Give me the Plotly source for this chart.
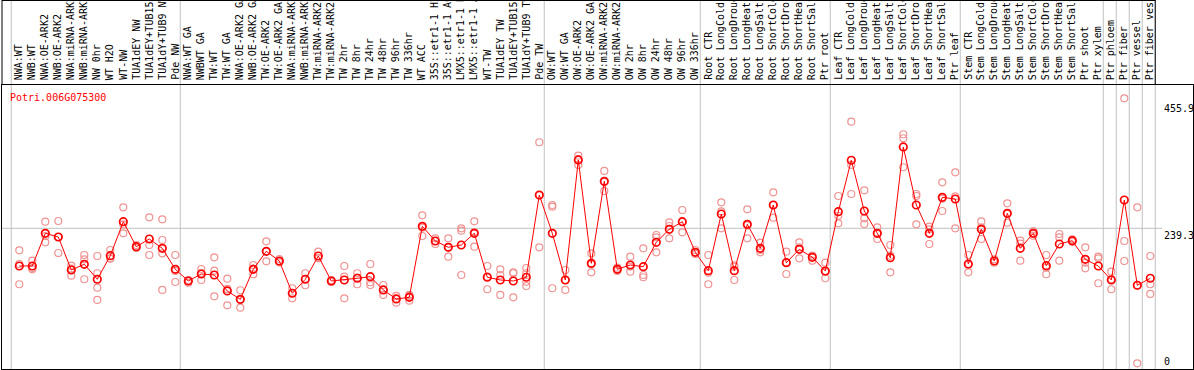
import plotly.graph_objects as go

gene = "Potri.006G075300"

labels = [
    "NWA:WT", "NWB:WT", "NWA:OE-ARK2", "NWB:OE-ARK2", "NWA:miRNA-ARK2", "NWB:miRNA-ARK2",
    "NW 0hr", "WT H2O", "WT-NW", "TUA1dEY NW", "TUA1dEY+TUB15 NW", "TUA1dY+TUB9 NW", "Pde NW",
    "NWA:WT GA", "NWBWT GA", "TW:WT", "TW:WT GA", "NWA:OE-ARK2 GA", "NWB:OE-ARK2 GA",
    "TW:OE-ARK2", "TW:OE-ARK2 GA", "NWA:miRNA-ARK2 GA", "NWB:miRNA-ARK2 GA", "TW:miRNA-ARK2",
    "TW:miRNA-ARK2", "TW 2hr", "TW 8hr", "TW 24hr", "TW 48hr", "TW 96hr", "TW 336hr", "WT ACC",
    "35S::etr1-1 H2O", "35S::etr1-1 ACC", "LMX5::etr1-1 H2O", "LMX5::etr1-1 ACC", "WT-TW",
    "TUA1dEY TW", "TUA1dEY+TUB15 TW", "TUA1dY+TUB9 TW", "Pde TW",
    "OW:WT", "OW:WT GA", "OW:OE-ARK2", "OW:OE-ARK2 GA", "OW:miRNA-ARK2", "OW:miRNA-ARK2",
    "OW 2hr", "OW 8hr", "OW 24hr", "OW 48hr", "OW 96hr", "OW 336hr",
    "Root CTR", "Root LongCold", "Root LongDrought", "Root LongHeat", "Root LongSalt",
    "Root ShortCold", "Root ShortDrought", "Root ShortHeat", "Root ShortSalt", "Ptr root",
    "Leaf CTR", "Leaf LongCold", "Leaf LongDrought", "Leaf LongHeat", "Leaf LongSalt",
    "Leaf ShortCold", "Leaf ShortDrought", "Leaf ShortHeat", "Leaf ShortSalt", "Ptr leaf",
    "Stem CTR", "Stem LongCold", "Stem LongDrought", "Stem LongHeat", "Stem LongSalt",
    "Stem ShortCold", "Stem ShortDrought", "Stem ShortHeat", "Stem ShortSalt", "Ptr shoot",
    "Ptr xylem", "Ptr phloem", "Ptr fiber", "Ptr vessel", "Ptr fiber vessel",
]

means = [
    175.2, 175.2, 230.8, 224.5, 168.4, 178.1, 152.6, 192.7, 250.5, 208.0, 221.1, 205.3, 169.6,
    149.7, 161.6, 159.9, 132.7, 118.5, 169.6, 200.2, 183.7, 128.8, 152.6, 192.2, 149.7, 151.4,
    154.3, 157.0, 134.4, 119.1, 121.9, 242.7, 217.7, 207.0, 210.9, 230.8, 156.0, 151.4, 149.7,
    156.0, 295.9,
    230.8, 151.4, 355.5, 179.8, 319.2, 169.6, 176.9, 174.0, 215.5, 237.6, 250.5, 198.5,
    167.2, 263.6, 167.2, 246.1, 205.3, 278.9, 180.8, 203.6, 190.0, 166.7,
    267.5, 355.0, 268.7, 230.8, 189.3, 377.6, 278.9, 230.8, 292.0, 289.1,
    178.6, 237.6, 183.7, 264.8, 205.3, 230.8, 175.7, 212.6, 218.2, 186.6, 175.2,
    151.4, 287.4, 142.4, 154.3,
]

replicates = [
    [201.9, 178.6, 144.1], [184.2, 171.8, 169.6], [250.5, 226.2, 215.5], [251.7, 224.5, 197.3],
    [175.7, 170.8, 158.7], [193.9, 186.6, 152.6], [192.2, 162.8, 138.3, 117.4], [202.4, 188.3, 187.6],
    [275.0, 245.8, 230.8], [210.9, 207.5, 205.8], [258.0, 210.9, 193.9], [254.6, 219.4, 196.8, 134.4],
    [193.9, 166.7, 148.0],
    [151.4, 149.7, 146.8], [170.1, 163.3, 151.4], [190.0, 167.2, 123.6], [153.6, 136.1, 108.3],
    [133.9, 117.4, 104.3], [176.9, 170.6, 161.1], [217.2, 200.0, 183.2], [187.1, 182.5, 181.5],
    [137.3, 128.8, 120.2], [162.8, 152.6, 142.4], [199.5, 188.8, 188.3], [151.4, 149.7, 148.0],
    [175.2, 157.0, 120.2], [162.8, 155.3, 144.1], [178.6, 147.5, 142.9], [142.9, 134.4, 125.9],
    [124.2, 119.1, 112.8], [125.9, 124.2, 116.2], [261.4, 240.3, 226.2], [222.3, 217.7, 212.6],
    [222.3, 207.5, 191.0], [239.3, 235.2, 159.9], [251.2, 233.0, 208.0], [175.2, 157.0, 135.6],
    [169.6, 159.9, 125.9], [164.3, 162.8, 121.9], [171.8, 162.8, 148.5, 141.2], [385.6, 295.3, 207.0],
    [278.9, 276.0, 137.3], [168.4, 151.4, 134.4], [362.8, 356.7, 347.0], [196.8, 177.9, 164.5],
    [336.8, 318.0, 302.7], [172.3, 169.6, 166.7], [191.0, 174.2, 165.5], [205.3, 159.9, 156.0],
    [227.9, 224.0, 198.5], [249.5, 243.2, 222.3], [270.4, 250.0, 232.5], [202.4, 198.5, 195.6],
    [193.9, 163.6, 144.1], [283.5, 268.0, 239.3], [176.4, 174.0, 151.4], [271.6, 244.2, 222.3],
    [214.8, 202.4, 198.5], [300.5, 278.9, 257.3], [199.5, 181.5, 161.6], [215.5, 206.8, 188.3],
    [193.0, 192.2, 184.2], [180.8, 165.0, 154.3],
    [294.2, 260.6, 247.8], [420.6, 347.0, 297.6], [303.9, 256.3, 246.6], [241.0, 230.1, 221.1],
    [210.9, 192.7, 164.5], [399.2, 392.4, 343.1], [297.6, 294.2, 246.1], [242.0, 237.6, 212.6],
    [317.5, 289.6, 268.7], [334.5, 293.6, 239.3],
    [193.9, 177.4, 164.5], [250.9, 240.7, 221.1], [186.6, 183.7, 180.8], [281.8, 263.6, 248.8],
    [218.2, 213.3, 184.2], [234.7, 230.8, 226.7], [193.9, 172.3, 161.1], [229.6, 224.0, 184.2],
    [220.6, 218.2, 216.0], [207.0, 180.8, 171.3], [191.0, 188.3, 145.8],
    [165.5, 153.1, 135.6], [460.4, 217.7, 183.7], [275.0, 142.2, 9.7], [192.2, 144.1, 127.6],
]

group_starts = [0, 13, 41, 53, 63, 73, 84, 85, 86, 87, 88]
ref_values = [455.9, 239.3, 0]

MONO = "DejaVu Sans Mono"
idx = list(range(len(means)))
rep_x = [i for i, reps in enumerate(replicates) for _ in reps]
rep_y = [v for reps in replicates for v in reps]

fig = go.Figure()
fig.add_trace(go.Scatter(
    x=rep_x, y=rep_y, mode="markers",
    marker=dict(symbol="circle-open", size=7, color="#ef9393", line=dict(width=1.2, color="#ef9393")),
    hoverinfo="skip", showlegend=False,
))
fig.add_trace(go.Scatter(
    x=idx, y=means, mode="lines+markers",
    line=dict(color="#ff0000", width=1),
    marker=dict(symbol="circle-open", size=7.5, color="#ff0000", line=dict(width=1.7, color="#ff0000")),
    showlegend=False,
))

W, H = 1194, 370
L, R, T, B = 2, 1, 85, 1
plot_w = W - L - R
plot_h = H - T - B
x0_px, dx_px = 19.3, 13.0
xr = [(L - x0_px) / dx_px, (W - R - x0_px) / dx_px]
yr = [0, 483.0]
top_paper = (H - B) / plot_h  # paper y of the very top of the figure

shapes = []
sep_off = 0.62
for s in group_starts:
    shapes.append(dict(type="line", xref="x", yref="paper", x0=s - sep_off, x1=s - sep_off,
                       y0=0, y1=top_paper, line=dict(color="#c0c0c0", width=1), layer="below"))
# horizontal reference line
shapes.append(dict(type="line", xref="paper", yref="y", x0=0, x1=(1162 - L) / plot_w,
                   y0=ref_values[1], y1=ref_values[1], line=dict(color="#c0c0c0", width=1), layer="below"))
# header box
hx1 = group_starts[-1] - sep_off
shapes.append(dict(type="line", xref="x", yref="paper", x0=hx1, x1=hx1, y0=1, y1=top_paper,
                   line=dict(color="black", width=1)))
shapes.append(dict(type="line", xref="x", yref="paper", x0=xr[0], x1=hx1,
                   y0=top_paper - 0.5 / plot_h, y1=top_paper - 0.5 / plot_h, line=dict(color="black", width=1)))
shapes.append(dict(type="line", xref="paper", yref="paper", x0=0, x1=0, y0=1, y1=top_paper,
                   line=dict(color="black", width=1)))

annotations = []
label_y = (H - B - 82) / plot_h
for i, lab in enumerate(labels):
    annotations.append(dict(x=i, y=label_y, xref="x", yref="paper", text=lab, textangle=-90,
                            showarrow=False, xanchor="center", yanchor="bottom",
                            font=dict(family=MONO, size=10, color="black")))
annotations.append(dict(x=(8 - L) / plot_w, y=(H - B - 97) / plot_h, xref="paper", yref="paper",
                        text=gene, showarrow=False, xanchor="left", yanchor="middle",
                        font=dict(family=MONO, size=10, color="#ff0000")))
rx = (1162 - L) / plot_w
for v in ref_values:
    annotations.append(dict(x=rx, y=v, xref="paper", yref="y", text=("%g" % v if v == 0 else "%.1f" % v),
                            showarrow=False, xanchor="left", yanchor=("bottom" if v == 0 else "top"),
                            font=dict(family=MONO, size=10, color="black")))

fig.update_layout(
    width=W, height=H,
    margin=dict(l=L, r=R, t=T, b=B, pad=0),
    paper_bgcolor="white", plot_bgcolor="white",
    xaxis=dict(range=xr, showgrid=False, zeroline=False, showticklabels=False, ticks="",
               showline=True, mirror=True, linecolor="black", linewidth=1, fixedrange=True),
    yaxis=dict(range=yr, showgrid=False, zeroline=False, showticklabels=False, ticks="",
               showline=True, mirror=True, linecolor="black", linewidth=1, fixedrange=True),
    shapes=shapes, annotations=annotations,
    showlegend=False,
)

fig.write_html(
    "out.html",
    config={"displayModeBar": False, "responsive": False},
    post_script="document.body.style.margin='0';document.body.style.overflow='hidden';",
)
